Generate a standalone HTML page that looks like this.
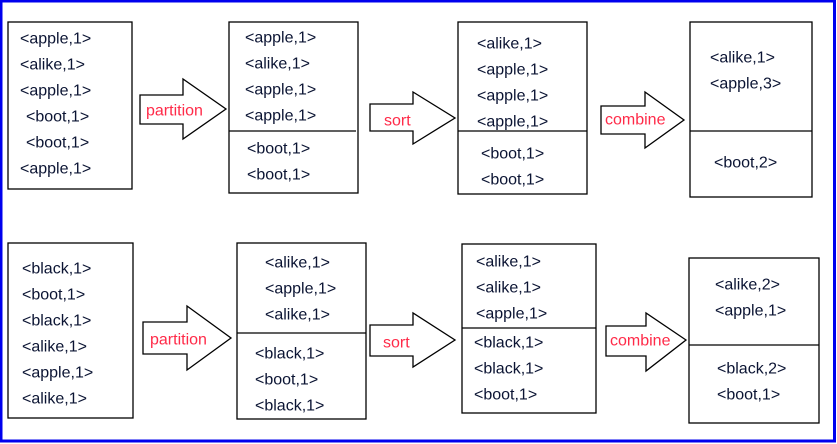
<!DOCTYPE html>
<html><head><meta charset="utf-8"><style>
html,body{margin:0;padding:0;background:#fff}
svg{display:block}
text{font-family:"Liberation Sans","DejaVu Sans",sans-serif;font-size:16px;fill:#0b1433;dominant-baseline:middle}
.r{fill:#ff2a48}
rect,path,line{stroke:#000;stroke-width:1.3;fill:#fff}
</style></head><body>
<svg width="837" height="444" viewBox="0 0 837 444">
<rect x="1" y="1" width="833.5" height="440" style="stroke:#0000ee;stroke-width:3;fill:#fff"/>
<g transform="translate(0,1.5)">
<!-- Row 1 -->
<rect x="8" y="20.5" width="124" height="167"/>
<text x="20" y="38">&lt;apple,1&gt;</text><text x="20" y="64">&lt;alike,1&gt;</text><text x="20" y="90">&lt;apple,1&gt;</text><text x="26" y="116">&lt;boot,1&gt;</text><text x="26" y="142">&lt;boot,1&gt;</text><text x="20" y="168">&lt;apple,1&gt;</text>
<path d="M140 93.5H183V77.5L226 107.5L183 137.5V122.5H140Z"/><text class="r" x="146" y="110">partition</text>
<rect x="229" y="20.5" width="129" height="171"/><line x1="229" y1="129.5" x2="356" y2="129.5"/>
<text x="245" y="37">&lt;apple,1&gt;</text><text x="245" y="63">&lt;alike,1&gt;</text><text x="245" y="89">&lt;apple,1&gt;</text><text x="245" y="115">&lt;apple,1&gt;</text><text x="247" y="148">&lt;boot,1&gt;</text><text x="247" y="174">&lt;boot,1&gt;</text>
<path d="M370 102.5H413V90.5L455 116.5L413 142.5V129.5H370Z"/><text class="r" x="384" y="120">sort</text>
<rect x="458" y="20.5" width="129" height="172"/><line x1="458" y1="129.5" x2="587" y2="129.5"/>
<text x="477" y="43">&lt;alike,1&gt;</text><text x="477" y="69">&lt;apple,1&gt;</text><text x="477" y="95">&lt;apple,1&gt;</text><text x="477" y="121">&lt;apple,1&gt;</text><text x="481" y="153">&lt;boot,1&gt;</text><text x="481" y="179">&lt;boot,1&gt;</text>
<path d="M601 104.5H645V90.5L684 118.5L645 146.5V132.5H601Z"/><text class="r" x="605" y="119">combine</text>
<rect x="690" y="20.5" width="122" height="175"/><line x1="690" y1="129.5" x2="812" y2="129.5"/>
<text x="710" y="57">&lt;alike,1&gt;</text><text x="710" y="83">&lt;apple,3&gt;</text><text x="714" y="162">&lt;boot,2&gt;</text>
<!-- Row 2 -->
<rect x="8" y="241.5" width="125" height="175"/>
<text x="22" y="268">&lt;black,1&gt;</text><text x="22" y="294">&lt;boot,1&gt;</text><text x="22" y="320">&lt;black,1&gt;</text><text x="22" y="346">&lt;alike,1&gt;</text><text x="22" y="372">&lt;apple,1&gt;</text><text x="22" y="398">&lt;alike,1&gt;</text>
<path d="M143 320.5H187V304.5L231 336.5L187 368.5V352.5H143Z"/><text class="r" x="150" y="339">partition</text>
<rect x="237" y="241.5" width="129" height="176"/><line x1="237" y1="331.5" x2="366" y2="331.5"/>
<text x="265" y="262">&lt;alike,1&gt;</text><text x="265" y="288">&lt;apple,1&gt;</text><text x="265" y="314">&lt;alike,1&gt;</text><text x="255" y="353">&lt;black,1&gt;</text><text x="255" y="379">&lt;boot,1&gt;</text><text x="255" y="405">&lt;black,1&gt;</text>
<path d="M370 323.5H413V311.5L455 338.5L413 365.5V354.5H370Z"/><text class="r" x="383" y="342">sort</text>
<rect x="462" y="242.5" width="134" height="169"/><line x1="462" y1="326.5" x2="596" y2="326.5"/>
<text x="476" y="261">&lt;alike,1&gt;</text><text x="476" y="287">&lt;alike,1&gt;</text><text x="476" y="313">&lt;apple,1&gt;</text><text x="474" y="342">&lt;black,1&gt;</text><text x="474" y="368">&lt;black,1&gt;</text><text x="474" y="394">&lt;boot,1&gt;</text>
<path d="M606 324.5H646V311.5L686 338.5L646 369.5V354.5H606Z"/><text class="r" x="610" y="340">combine</text>
<rect x="689" y="256.5" width="130" height="165"/><line x1="689" y1="343.5" x2="819" y2="343.5"/>
<text x="715" y="284">&lt;alike,2&gt;</text><text x="715" y="310">&lt;apple,1&gt;</text><text x="717" y="368">&lt;black,2&gt;</text><text x="717" y="394">&lt;boot,1&gt;</text>
</g>
</svg>
</body></html>
